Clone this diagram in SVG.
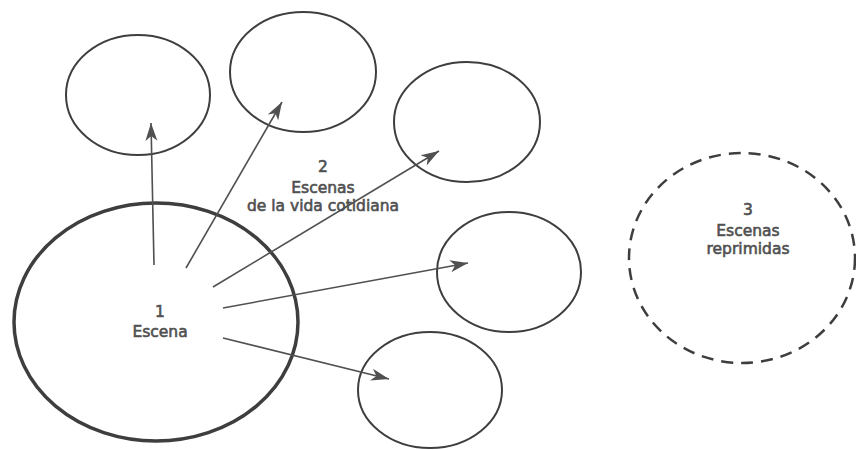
<svg xmlns="http://www.w3.org/2000/svg" width="856" height="450" viewBox="0 0 856 450">
<defs>
<marker id="ah" markerUnits="userSpaceOnUse" markerWidth="20" markerHeight="14" refX="18" refY="7" orient="auto">
<path d="M0,1 L18,7 L0,13 L5,7 Z" fill="#505050"/>
</marker>
<style>
.sc{fill:none;stroke:#3e3e3e;stroke-width:2}
.big{fill:none;stroke:#3e3e3e;stroke-width:3.5}
.dash{fill:none;stroke:#3e3e3e;stroke-width:2.5;stroke-dasharray:12 8}
.ar{fill:none;stroke:#505050;stroke-width:1.6;marker-end:url(#ah)}
text{font-family:"DejaVu Sans","Liberation Sans",sans-serif;font-size:15.5px;fill:#505050;text-anchor:middle;stroke:#505050;stroke-width:0.6}
</style>
</defs>
<rect width="856" height="450" fill="#ffffff"/>
<g id="node1">
<ellipse class="big" cx="156" cy="322" rx="142" ry="119"/>
<text x="160" y="317">1</text>
<text x="160" y="337">Escena</text>
</g>
<g id="scene-a"><ellipse class="sc" cx="138" cy="95" rx="72" ry="60"/></g>
<g id="scene-b"><ellipse class="sc" cx="303" cy="72" rx="73" ry="60"/></g>
<g id="scene-c"><ellipse class="sc" cx="467" cy="122" rx="73" ry="60"/></g>
<g id="scene-d"><ellipse class="sc" cx="509" cy="272" rx="72" ry="60"/></g>
<g id="scene-e"><ellipse class="sc" cx="430" cy="390" rx="72" ry="58"/></g>
<g id="node2">
<text x="323" y="172">2</text>
<text x="323" y="193">Escenas</text>
<text x="323" y="211">de la vida cotidiana</text>
</g>
<g id="node3">
<ellipse class="dash" cx="742" cy="258" rx="113" ry="105"/>
<text x="748" y="215">3</text>
<text x="748" y="236">Escenas</text>
<text x="748" y="254">reprimidas</text>
</g>
<g id="connectors">
<line class="ar" x1="154" y1="265" x2="151" y2="123"/>
<line class="ar" x1="186" y1="268" x2="282" y2="102"/>
<line class="ar" x1="213" y1="287" x2="439" y2="151"/>
<line class="ar" x1="223" y1="308" x2="468" y2="263"/>
<line class="ar" x1="223" y1="338" x2="389" y2="379"/>
</g>
</svg>
